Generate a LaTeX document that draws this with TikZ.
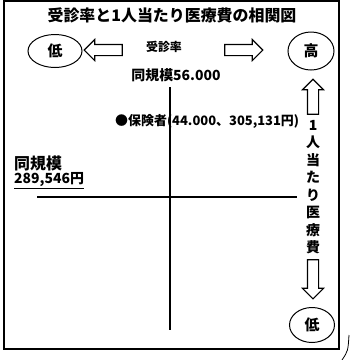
\documentclass[tikz,border=0pt]{standalone}
\usepackage{fontspec}
\setmainfont{Noto Sans CJK JP}
\usetikzlibrary{shapes.geometric,shapes.arrows}
\tikzset{
  level/.style={draw,ellipse,line width=1pt,inner sep=0pt,font=\fontsize{15}{15}\selectfont\bfseries},
  hollow/.style={draw,single arrow,line width=1.1pt,inner sep=5bp,
    single arrow head extend=5bp,single arrow tip angle=90,fill=white},
  axis/.style={line width=1.6pt},
}
\begin{document}
\begin{tikzpicture}[x=1bp,y=-1bp]
    \useasboundingbox (0,0) rectangle (350,360);
    \draw[line width=1.2pt] (4,1) rectangle (339,349);
    \draw[line width=0.8pt] (349,335) .. controls (348,351) .. (342,360);
    \node[font=\fontsize{16}{16}\selectfont\bfseries] (title) at (172,15) {受診率と1人当たり医療費の相関図};
    % horizontal axis: rate
    \node[level,minimum width=54bp,minimum height=33bp] (xlow) at (55,51) {低};
    \node[level,minimum width=46bp,minimum height=38bp] (xhigh) at (311,51) {高};
    \node[hollow,minimum height=38bp,shape border rotate=180] (xleft) at (106,50) {};
    \node[hollow,minimum height=38bp] (xright) at (241,50) {};
    \node[font=\fontsize{12}{12}\selectfont\bfseries] (rate) at (164,47) {受診率};
    \node[font=\fontsize{14}{14}\selectfont\bfseries] (xavg) at (176,75) {同規模56.000};
    % vertical axis: cost
    \node[hollow,minimum height=35bp,shape border rotate=90] (yup) at (313,99.5) {};
    \node[hollow,minimum height=39bp,shape border rotate=270] (ydown) at (313,276.5) {};
    \node[font=\fontsize{14}{17.6}\selectfont\bfseries,align=center,inner sep=0pt] (cost) at (313,187) {1\\人\\当\\た\\り\\医\\療\\費};
    \node[level,minimum width=45bp,minimum height=35bp] (ylow) at (312,325) {低};
    \node[font=\fontsize{16}{16}\selectfont\bfseries,anchor=west,inner sep=0pt] (yavg) at (14,163) {同規模};
    \node[font=\fontsize{14}{14}\selectfont\bfseries,anchor=west,inner sep=0pt] (yval) at (14,181) {\underline{289,546円}};
    % axes
    \coordinate (vtop) at (170,87);
    \coordinate (vbot) at (170,330);
    \coordinate (hleft) at (37,197);
    \coordinate (hright) at (297,197);
    \draw[axis] (vtop) -- (vbot);
    \draw[axis] (hleft) -- (hright);
    \node[font=\fontsize{13}{13}\selectfont\bfseries,anchor=west,inner sep=0pt] (insurer) at (115,121) {●保険者(44.000、305,131円)};
\end{tikzpicture}
\end{document}
